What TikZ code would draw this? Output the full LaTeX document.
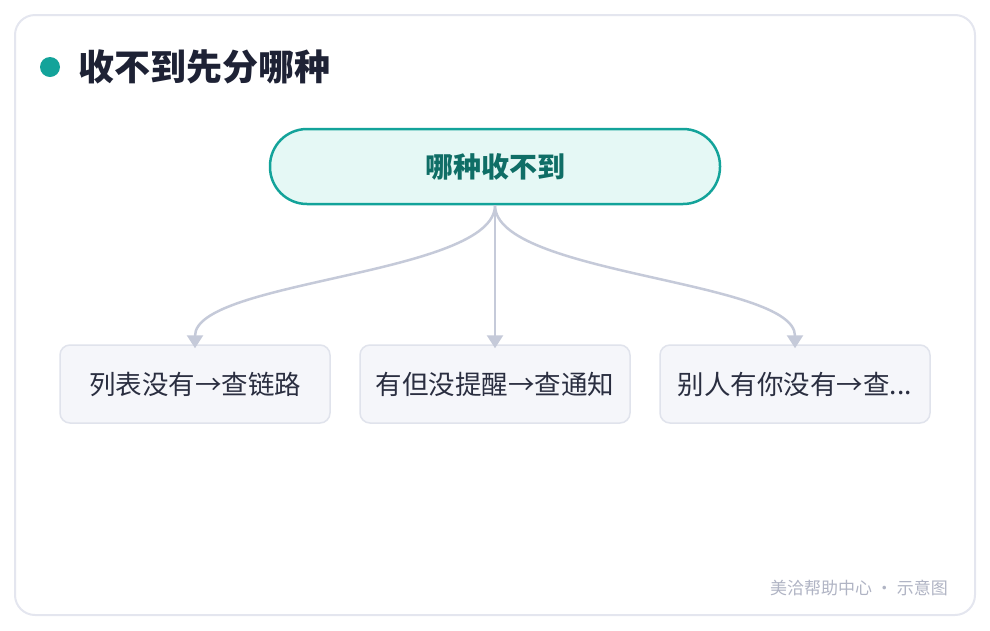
\documentclass[tikz,border=0pt]{standalone}
\usepackage{fontspec}
\setmainfont{Noto Sans CJK SC}
\usetikzlibrary{arrows.meta}
\definecolor{frameC}{HTML}{E4E6EF}
\definecolor{teal}{HTML}{13A39A}
\definecolor{tealdark}{HTML}{0F6E66}
\definecolor{tealfill}{HTML}{E5F8F5}
\definecolor{titleC}{HTML}{1E2235}
\definecolor{boxfill}{HTML}{F5F6FA}
\definecolor{boxline}{HTML}{E0E3EC}
\definecolor{txtC}{HTML}{2A2E40}
\definecolor{lineC}{HTML}{C5CAD9}
\definecolor{footC}{HTML}{B0B4C4}
\begin{document}
\begin{tikzpicture}[x=1pt,y=-1pt,
  child/.style={draw=boxline,line width=1.5pt,fill=boxfill,rounded corners=10pt,minimum width=270pt,minimum height=78pt,text=txtC,font=\fontsize{26.5}{30}\selectfont},
  conn/.style={draw=lineC,line width=2.5pt,-{Triangle[length=13pt,width=16pt]}}]
\useasboundingbox (0,0) rectangle (990,630);
\draw[frameC,line width=2pt,fill=white,rounded corners=20pt] (15,15) rectangle (975,615);
\fill[teal] (50,67) circle (10);
\node[anchor=west,text=titleC,font=\fontsize{36}{42}\selectfont\bfseries,inner sep=0pt] (title) at (78,67) {收不到先分哪种};
\node[draw=teal,line width=2.5pt,fill=tealfill,rounded corners=37pt,minimum width=450pt,minimum height=75pt,text=tealdark,font=\fontsize{28}{32}\selectfont\bfseries] (root) at (495,166.5) {哪种收不到};
\node[child] (a) at (195,384) {列表没有→查链路};
\node[child] (b) at (495,384) {有但没提醒→查通知};
\node[child] (c) at (795,384) {别人有你没有→查...};
\draw[conn] (root.south) .. controls (495,275) and (195,280) .. ([yshift=-4pt]a.north);
\draw[conn] (root.south) -- ([yshift=-4pt]b.north);
\draw[conn] (root.south) .. controls (495,275) and (795,280) .. ([yshift=-4pt]c.north);
\node[anchor=east,text=footC,font=\fontsize{17}{20}\selectfont,inner sep=0pt] (foot) at (948,588) {美洽帮助中心 · 示意图};
\end{tikzpicture}
\end{document}
